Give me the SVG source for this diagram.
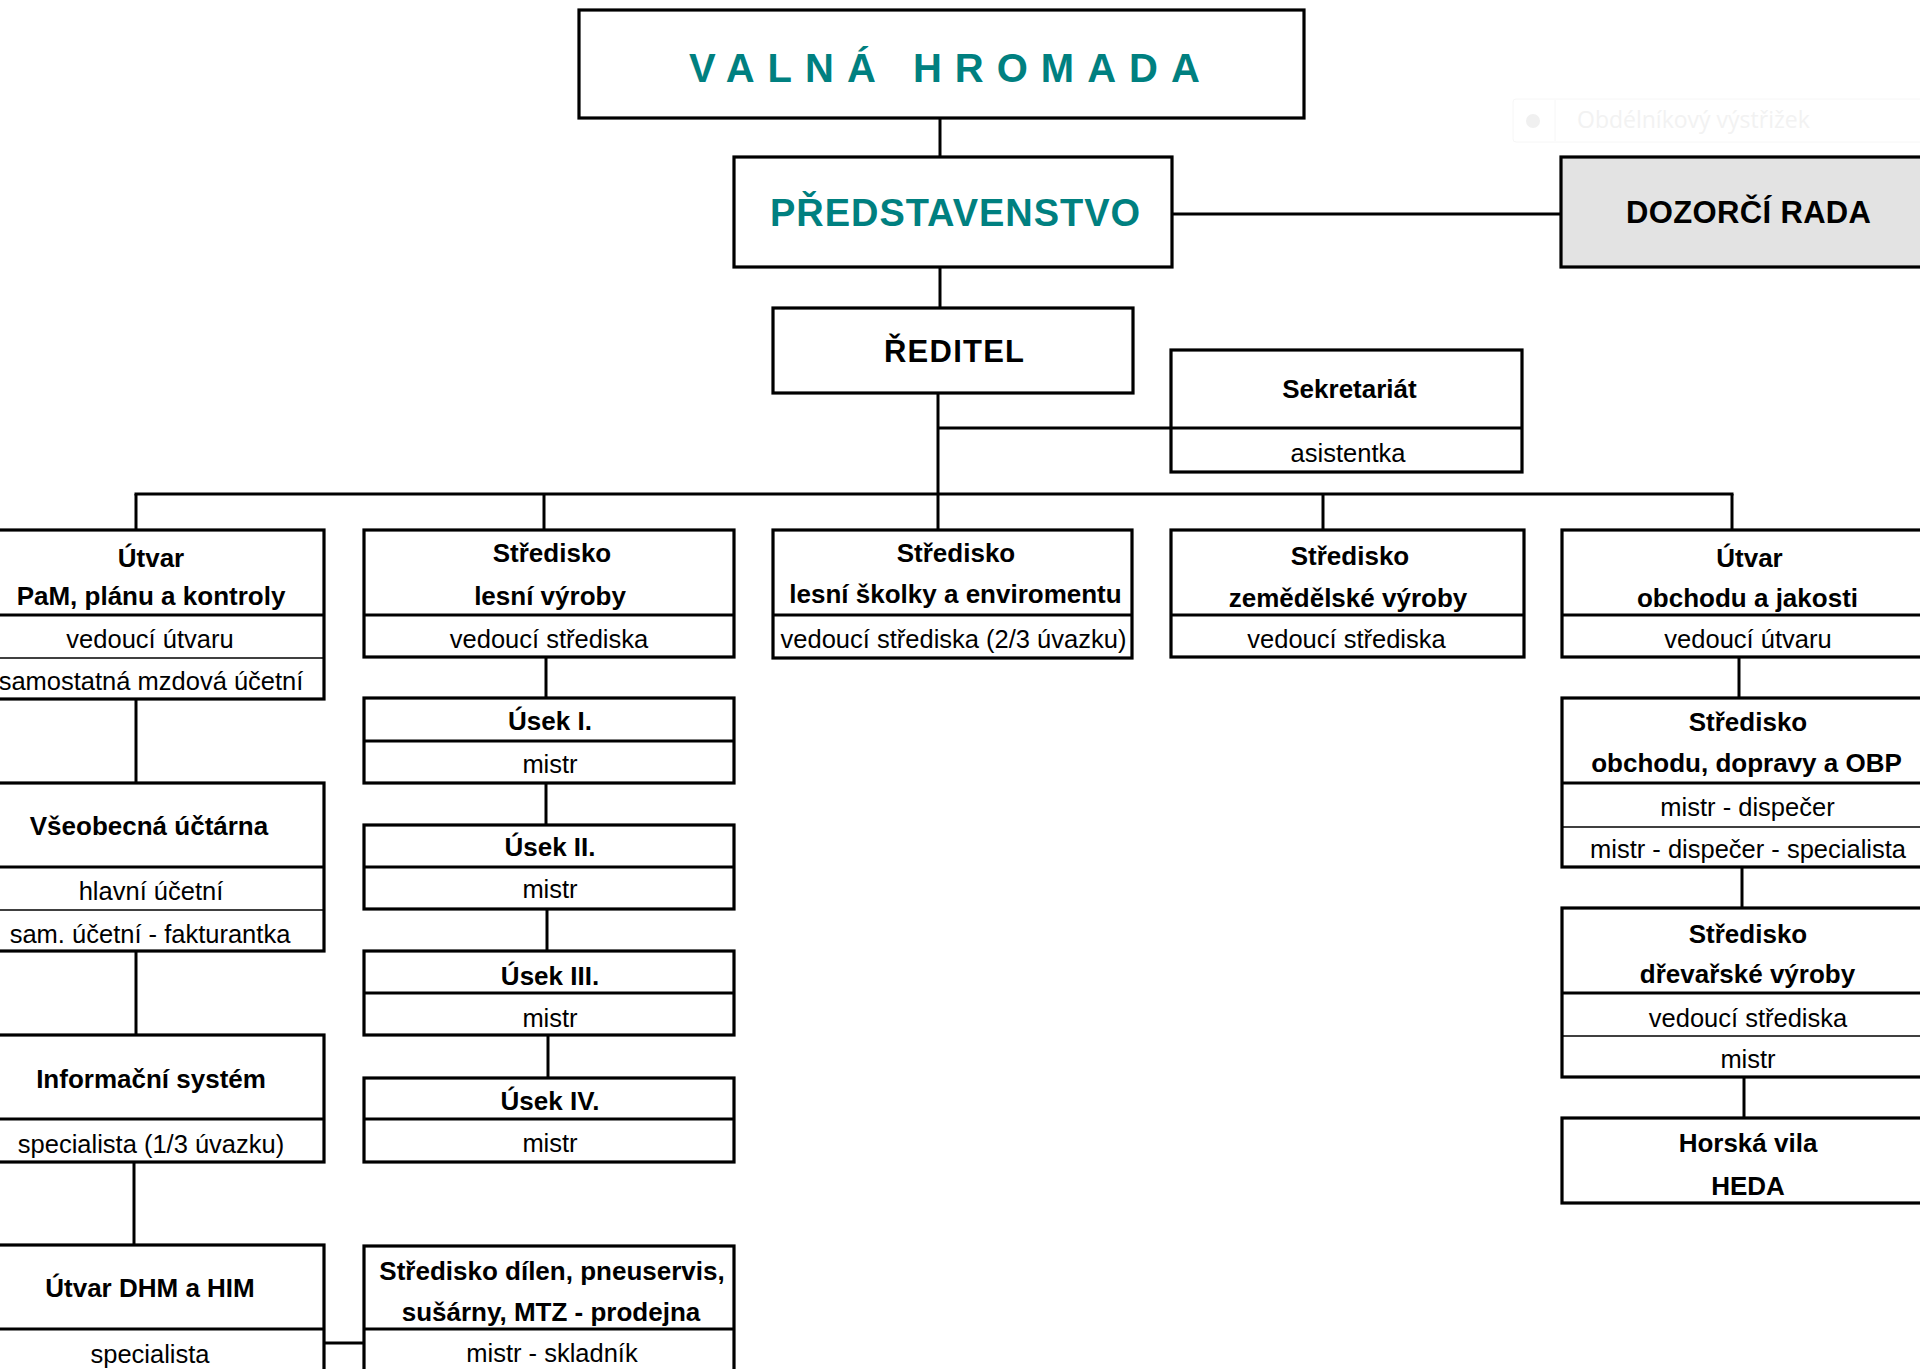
<svg xmlns="http://www.w3.org/2000/svg" width="1920" height="1369" viewBox="0 0 1920 1369">
<style>
  .box { fill: #ffffff; stroke: #000000; stroke-width: 3.2; }
  .grey { fill: #e3e3e3; }
  .div { stroke: #000000; stroke-width: 3.2; fill: none; }
  .thin { stroke: #000000; stroke-width: 1.6; fill: none; }
  .con { stroke: #000000; stroke-width: 3; fill: none; }
  text { font-family: "Liberation Sans", Arial, sans-serif; fill: #000000; }
  .b { font-size: 26px; font-weight: bold; text-anchor: middle; }
  .r { font-size: 25.5px; text-anchor: middle; }
  .teal { fill: #008080; font-weight: bold; }
</style>
<rect x="0" y="0" width="1920" height="1369" fill="#ffffff"/>

<g id="ghost-tooltip">
  <rect x="1513" y="99" width="420" height="43" rx="3" fill="#ffffff" stroke="#f6f6f6" stroke-width="1"/>
  <line x1="1555" y1="100" x2="1555" y2="141" stroke="#f6f6f6" stroke-width="1"/>
  <circle cx="1533" cy="121" r="7" fill="#f0f0f0"/>
  <text x="1577" y="128" style="font-family:'Open Sans','Noto Sans',sans-serif;font-size:23px;fill:#f2f2f2">Obdélníkový výstřižek</text>
</g>

<g id="connectors">
  <line class="con" x1="940" y1="118" x2="940" y2="157"/>
  <line class="con" x1="1172" y1="214" x2="1561" y2="214"/>
  <line class="con" x1="940" y1="267" x2="940" y2="308"/>
  <line class="con" x1="938" y1="393" x2="938" y2="530"/>
  <line class="con" x1="938" y1="428" x2="1171" y2="428"/>
  <line class="con" x1="134.5" y1="494" x2="1733.5" y2="494"/>
  <line class="con" x1="136" y1="494" x2="136" y2="530"/>
  <line class="con" x1="544" y1="494" x2="544" y2="530"/>
  <line class="con" x1="1323" y1="494" x2="1323" y2="530"/>
  <line class="con" x1="1732" y1="494" x2="1732" y2="530"/>
  <line class="con" x1="136" y1="699" x2="136" y2="783"/>
  <line class="con" x1="136" y1="951" x2="136" y2="1035"/>
  <line class="con" x1="134" y1="1162" x2="134" y2="1245"/>
  <line class="con" x1="323" y1="1343" x2="364" y2="1343"/>
  <line class="con" x1="546" y1="657" x2="546" y2="698"/>
  <line class="con" x1="546" y1="783" x2="546" y2="825"/>
  <line class="con" x1="547" y1="909" x2="547" y2="951"/>
  <line class="con" x1="548" y1="1035" x2="548" y2="1078"/>
  <line class="con" x1="1739" y1="657" x2="1739" y2="698"/>
  <line class="con" x1="1742" y1="867" x2="1742" y2="908"/>
  <line class="con" x1="1744" y1="1077" x2="1744" y2="1118"/>
</g>

<g id="valna-hromada">
  <rect class="box" x="579" y="10" width="725" height="108"/>
  <text x="689" y="82" class="teal" style="font-size:40px;letter-spacing:13px">VALNÁ HROMADA</text>
</g>

<g id="predstavenstvo">
  <rect class="box" x="734" y="157" width="438" height="110"/>
  <text x="770" y="226" class="teal" style="font-size:38px" textLength="370" lengthAdjust="spacing">PŘEDSTAVENSTVO</text>
</g>

<g id="dozorci-rada">
  <rect class="box grey" x="1561" y="157" width="380" height="110"/>
  <text x="1626" y="223" style="font-size:31px;font-weight:bold" textLength="245" lengthAdjust="spacing">DOZORČÍ RADA</text>
</g>

<g id="reditel">
  <rect class="box" x="773" y="308" width="360" height="85"/>
  <text x="884" y="362" style="font-size:31px;font-weight:bold" textLength="140" lengthAdjust="spacing">ŘEDITEL</text>
</g>

<g id="sekretariat">
  <rect class="box" x="1171" y="350" width="351" height="122"/>
  <line class="div" x1="1171" y1="428" x2="1522" y2="428"/>
  <text x="1349.5" y="398" class="b">Sekretariát</text>
  <text x="1348" y="462" class="r">asistentka</text>
</g>

<g id="utvar-pam">
  <rect class="box" x="-22" y="530" width="346" height="169"/>
  <line class="div" x1="-22" y1="615" x2="324" y2="615"/>
  <line class="thin" x1="-22" y1="658" x2="324" y2="658"/>
  <text x="151" y="567" class="b">Útvar</text>
  <text x="151" y="605" class="b">PaM, plánu a kontroly</text>
  <text x="150" y="648" class="r">vedoucí útvaru</text>
  <text x="151" y="690" class="r">samostatná mzdová účetní</text>
</g>

<g id="vseobecna-uctarna">
  <rect class="box" x="-22" y="783" width="346" height="168"/>
  <line class="div" x1="-22" y1="867" x2="324" y2="867"/>
  <line class="thin" x1="-22" y1="910" x2="324" y2="910"/>
  <text x="149" y="835" class="b">Všeobecná účtárna</text>
  <text x="151" y="900" class="r">hlavní účetní</text>
  <text x="150" y="943" class="r">sam. účetní - fakturantka</text>
</g>

<g id="informacni-system">
  <rect class="box" x="-22" y="1035" width="346" height="127"/>
  <line class="div" x1="-22" y1="1119" x2="324" y2="1119"/>
  <text x="151" y="1088" class="b">Informační systém</text>
  <text x="151" y="1153" class="r">specialista (1/3 úvazku)</text>
</g>

<g id="utvar-dhm-him">
  <rect class="box" x="-22" y="1245" width="346" height="140"/>
  <line class="div" x1="-22" y1="1329" x2="324" y2="1329"/>
  <text x="150" y="1297" class="b">Útvar DHM a HIM</text>
  <text x="150" y="1363" class="r">specialista</text>
</g>

<g id="stredisko-lesni-vyroby">
  <rect class="box" x="364" y="530" width="370" height="127"/>
  <line class="div" x1="364" y1="615" x2="734" y2="615"/>
  <text x="552" y="562" class="b">Středisko</text>
  <text x="550" y="605" class="b">lesní výroby</text>
  <text x="549" y="648" class="r">vedoucí střediska</text>
</g>

<g id="usek-1">
  <rect class="box" x="364" y="698" width="370" height="85"/>
  <line class="div" x1="364" y1="741" x2="734" y2="741"/>
  <text x="550" y="730" class="b">Úsek I.</text>
  <text x="550" y="773" class="r">mistr</text>
</g>

<g id="usek-2">
  <rect class="box" x="364" y="825" width="370" height="84"/>
  <line class="div" x1="364" y1="867" x2="734" y2="867"/>
  <text x="550" y="856" class="b">Úsek II.</text>
  <text x="550" y="898" class="r">mistr</text>
</g>

<g id="usek-3">
  <rect class="box" x="364" y="951" width="370" height="84"/>
  <line class="div" x1="364" y1="993" x2="734" y2="993"/>
  <text x="550" y="985" class="b">Úsek III.</text>
  <text x="550" y="1027" class="r">mistr</text>
</g>

<g id="usek-4">
  <rect class="box" x="364" y="1078" width="370" height="84"/>
  <line class="div" x1="364" y1="1119" x2="734" y2="1119"/>
  <text x="550" y="1110" class="b">Úsek IV.</text>
  <text x="550" y="1152" class="r">mistr</text>
</g>

<g id="stredisko-dilen">
  <rect class="box" x="364" y="1246" width="370" height="140"/>
  <line class="div" x1="364" y1="1329" x2="734" y2="1329"/>
  <text x="552" y="1280" class="b">Středisko dílen, pneuservis,</text>
  <text x="551" y="1321" class="b">sušárny, MTZ - prodejna</text>
  <text x="552" y="1362" class="r">mistr - skladník</text>
</g>

<g id="stredisko-lesni-skolky">
  <rect class="box" x="773" y="530" width="359" height="128"/>
  <line class="div" x1="773" y1="615" x2="1132" y2="615"/>
  <text x="956" y="562" class="b">Středisko</text>
  <text x="955.5" y="603" class="b">lesní školky a enviromentu</text>
  <text x="953.5" y="648" class="r">vedoucí střediska (2/3 úvazku)</text>
</g>

<g id="stredisko-zemedelske">
  <rect class="box" x="1171" y="530" width="353" height="127"/>
  <line class="div" x1="1171" y1="615" x2="1524" y2="615"/>
  <text x="1350" y="565" class="b">Středisko</text>
  <text x="1348" y="607" class="b">zemědělské výroby</text>
  <text x="1346.5" y="648" class="r">vedoucí střediska</text>
</g>

<g id="utvar-obchodu">
  <rect class="box" x="1562" y="530" width="380" height="127"/>
  <line class="div" x1="1562" y1="615" x2="1942" y2="615"/>
  <text x="1749.5" y="567" class="b">Útvar</text>
  <text x="1747.5" y="607" class="b">obchodu a jakosti</text>
  <text x="1748" y="648" class="r">vedoucí útvaru</text>
</g>

<g id="stredisko-obchodu">
  <rect class="box" x="1562" y="698" width="380" height="169"/>
  <line class="div" x1="1562" y1="783" x2="1942" y2="783"/>
  <line class="thin" x1="1562" y1="827" x2="1942" y2="827"/>
  <text x="1748" y="731" class="b">Středisko</text>
  <text x="1746.5" y="772" class="b">obchodu, dopravy a OBP</text>
  <text x="1747.5" y="816" class="r">mistr - dispečer</text>
  <text x="1748" y="858" class="r">mistr - dispečer - specialista</text>
</g>

<g id="stredisko-drevarske">
  <rect class="box" x="1562" y="908" width="380" height="169"/>
  <line class="div" x1="1562" y1="993" x2="1942" y2="993"/>
  <line class="thin" x1="1562" y1="1036" x2="1942" y2="1036"/>
  <text x="1748" y="943" class="b">Středisko</text>
  <text x="1747.5" y="983" class="b">dřevařské výroby</text>
  <text x="1748" y="1027" class="r">vedoucí střediska</text>
  <text x="1748" y="1068" class="r">mistr</text>
</g>

<g id="horska-vila">
  <rect class="box" x="1562" y="1118" width="380" height="85"/>
  <text x="1748" y="1152" class="b">Horská vila</text>
  <text x="1748" y="1195" class="b">HEDA</text>
</g>
</svg>
